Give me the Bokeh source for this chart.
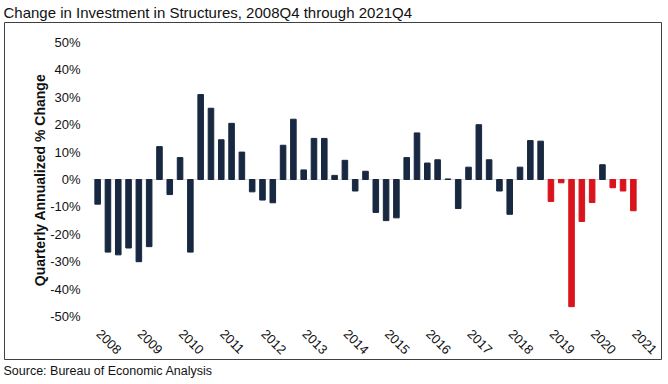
import math
from bokeh.plotting import figure
from bokeh.models import ColumnDataSource, Range1d, Title
from bokeh.core.properties import value
from bokeh.embed import file_html
from bokeh.resources import INLINE

# ---- data ----
title_text = "Change in Investment in Structures, 2008Q4 through 2021Q4"
source_text = "Source: Bureau of Economic Analysis"
y_label = "Quarterly Annualized % Change"

values = [-9, -26.5, -27.5, -25, -30, -24.5, 12, -5.5, 8, -26.5,
          31, 26, 14.5, 20.5, 10, -4.5, -7.5, -8.5, 12.5, 22,
          3.5, 15, 15, 1.5, 7, -4.2, 3, -12, -15, -14,
          8, 17, 6, 7.2, 0.2, -10.6, 4.5, 20, 7.2, -4.2,
          -12.7, 4.5, 14.2, 14, -8, -1.2, -46.4, -15.3, -8.4, 5.4,
          -3, -4.2, -11.4]
highlight = [0] * 44 + [1, 1, 1, 1, 1, 0, 1, 1, 1]
years = list(range(2008, 2022))
y_ticks = [-50, -40, -30, -20, -10, 0, 10, 20, 30, 40, 50]
y_tick_labels = ["-50%", "-40%", "-30%", "-20%", "-10%", "0%",
                 "10%", "20%", "30%", "40%", "50%"]

NAVY = "#172840"
RED = "#d9141c"
TXT = "#111111"
FONT = "Liberation Sans"

n = len(values)
idx = list(range(n))
quarters = []
yy, q = 2008, 4
for _ in values:
    quarters.append(f"{yy}Q{q}")
    q += 1
    if q > 4:
        q, yy = 1, yy + 1
colors = [RED if h else NAVY for h in highlight]
src = ColumnDataSource(dict(x=idx, top=values, color=colors, quarter=quarters))

# ---- layout geometry (pixels) ----
W, H = 668, 384
F_L, F_R, F_T, F_B = 4, 661, 22, 359          # chart box = plot frame
A_L, A_R = 92, 638                              # category area
Y_TOP_PX, Y_BOT_PX = 42, 316                    # +50% / -50%
ppx = (A_R - A_L) / n                           # pixels per category
ppy = (Y_BOT_PX - Y_TOP_PX) / 100.0             # pixels per percent
y0_px = (Y_TOP_PX + Y_BOT_PX) / 2

x_start = -0.5 - (A_L - F_L) / ppx
x_end = n - 0.5 + (F_R - A_R) / ppx
y_end = 50 + (Y_TOP_PX - F_T) / ppy
y_start = -50 - (F_B - Y_BOT_PX) / ppy

def px_to_x(px):
    return -0.5 + (px - A_L) / ppx

def px_to_y(py):
    return (y0_px - py) / ppy

p = figure(width=W, height=H, output_backend="svg", toolbar_location=None,
           x_range=Range1d(x_start, x_end), y_range=Range1d(y_start, y_end),
           x_axis_location=None, y_axis_location=None,
           min_border_left=F_L, min_border_right=W - F_R,
           min_border_top=F_T, min_border_bottom=H - F_B)
p.title.visible = False
p.outline_line_color = "#404040"
p.outline_line_width = 1
p.background_fill_color = "white"
p.border_fill_color = "white"
p.xgrid.visible = False
p.ygrid.visible = False

# zero line across the category area
p.line(x=[-0.5, n - 0.5], y=[0, 0], line_color="#d9d9d9", line_width=1)

# bars
p.vbar(x="x", top="top", bottom=0, width=0.54, color="color", source=src)

# y tick labels
ysrc = ColumnDataSource(dict(y=y_ticks, t=y_tick_labels,
                             x=[px_to_x(80)] * len(y_ticks)))
p.text(x="x", y="y", text="t", source=ysrc, text_align="right",
       text_baseline="middle", text_font=value(FONT), text_font_size="13px",
       text_color=TXT)

# y axis title
p.text(x=[px_to_x(39)], y=[px_to_y(179.5)], text=[y_label], angle=math.pi / 2,
       text_align="center", text_baseline="middle", text_font=value(FONT),
       text_font_size="14px", text_font_style="bold", text_color=TXT)

# x year labels (at Q4 of each year), rotated
x_ticks = [4 * (yr - 2008) for yr in years]
xsrc = ColumnDataSource(dict(x=[t + 1.1 / ppx for t in x_ticks],
                             y=[px_to_y(331)] * len(years),
                             t=[str(yr) for yr in years]))
p.text(x="x", y="y", text="t", source=xsrc, angle=-math.pi / 4,
       text_align="left", text_baseline="middle", text_font=value(FONT),
       text_font_size="13px", text_color=TXT)

# title and source outside the box
p.add_layout(Title(text=title_text, align="left", offset=-1, standoff=3,
                   text_font=FONT, text_font_size="15px",
                   text_font_style="normal", text_color=TXT), "above")
p.add_layout(Title(text=source_text, align="left", offset=-1, standoff=4,
                   text_font=FONT, text_font_size="12.5px",
                   text_font_style="normal", text_color=TXT), "below")

open("out.html", "w").write(file_html(p, INLINE))
